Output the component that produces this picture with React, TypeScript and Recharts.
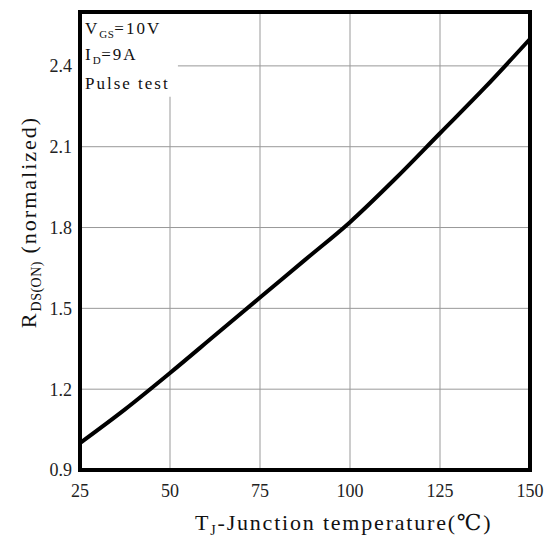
import React from 'react';
import { LineChart, Line, XAxis, YAxis, CartesianGrid, ReferenceArea } from 'recharts';

const temps = [25, 37.5, 50, 62.5, 75, 87.5, 100, 112.5, 125, 137.5, 150];
const rdsOn = [1.0, 1.125, 1.26, 1.4, 1.54, 1.68, 1.82, 1.98, 2.15, 2.32, 2.5];
const xTicks = [25, 50, 75, 100, 125, 150];
const yTicks = [0.9, 1.2, 1.5, 1.8, 2.1, 2.4];

const chartData = temps.map((t, i) => ({ t, r: rdsOn[i] }));

const FONT = '"Liberation Serif", "DejaVu Serif", serif';

const XLabel = (props: any) => {
  const vb = props.viewBox;
  return (
    <text x={vb.x + 115} y={vb.y + 60} fontFamily={FONT} fontSize={22} fill="#111" style={{ letterSpacing: 1.8 }}>
      <tspan>T</tspan>
      <tspan fontSize={14} dy={5}>J</tspan>
      <tspan dy={-5}>-Junction temperature(℃)</tspan>
    </text>
  );
};

const YLabel = () => (
  <text x={0} y={0} transform="translate(36,222) rotate(-90)" textAnchor="middle" fontFamily={FONT} fontSize={22} fill="#111" style={{ letterSpacing: 2 }}>
    <tspan>R</tspan>
    <tspan fontSize={14} dy={5} style={{ letterSpacing: 0.5 }}>DS(ON)</tspan>
    <tspan dy={-5}> (normalized)</tspan>
  </text>
);

const Note = (props: any) => {
  const vb = props.viewBox;
  const x = vb.x + 5;
  return (
    <g fontFamily={FONT} fill="#111" fontSize={17} style={{ letterSpacing: 2 }}>
      <text x={x} y={vb.y + 22}>
        <tspan>V</tspan>
        <tspan fontSize={11} dy={4} style={{ letterSpacing: 0.5 }}>GS</tspan>
        <tspan dy={-4}>=10V</tspan>
      </text>
      <text x={x} y={vb.y + 48}>
        <tspan>I</tspan>
        <tspan fontSize={11} dy={4} style={{ letterSpacing: 0.5 }}>D</tspan>
        <tspan dy={-4}>=9A</tspan>
      </text>
      <text x={x} y={vb.y + 77}>Pulse test</text>
    </g>
  );
};

const App: React.FC = () => {
  return (
    <div style={{ position: 'absolute', left: 0, top: 0, background: '#fff' }}>
      <LineChart width={554} height={538} data={chartData} margin={{ top: 12, right: 24, bottom: 0, left: 0 }}>
        <CartesianGrid stroke="#999" strokeWidth={1} horizontalValues={yTicks} verticalValues={xTicks} />
        <XAxis
          dataKey="t"
          type="number"
          domain={[25, 150]}
          ticks={xTicks}
          height={68}
          tickLine={false}
          axisLine={false}
          tickMargin={8}
          tick={{ fontFamily: FONT, fontSize: 18, fill: '#222' }}
          label={<XLabel />}
        />
        <YAxis
          type="number"
          domain={[0.9, 2.6]}
          ticks={yTicks}
          width={80}
          tickLine={false}
          axisLine={false}
          tickFormatter={(v: number) => v.toFixed(1)}
          tick={{ fontFamily: FONT, fontSize: 18, fill: '#222' }}
          label={<YLabel />}
        />
        <ReferenceArea x1={25} x2={52.2} y1={2.285} y2={2.6} fill="#fff" fillOpacity={1} stroke="none" label={<Note />} />
        <Line type="monotone" dataKey="r" stroke="#000" strokeWidth={4} dot={false} isAnimationActive={false} />
        <ReferenceArea x1={25} x2={150} y1={0.9} y2={2.6} fill="none" stroke="#000" strokeWidth={4} />
      </LineChart>
    </div>
  );
};

export default App;
